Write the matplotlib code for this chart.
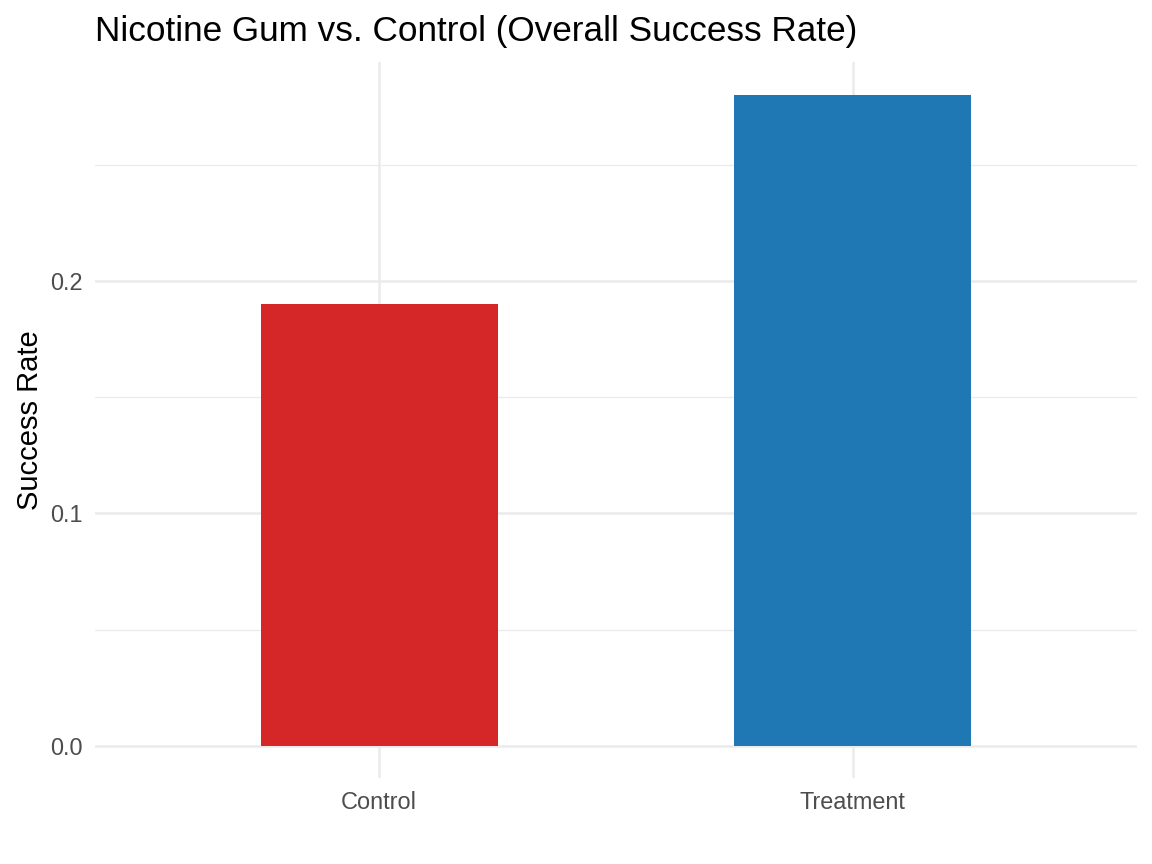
import matplotlib.pyplot as plt
import numpy as np

# Données
groupes = ["Control", "Treatment"]
taux_succes = [0.190, 0.280]
couleurs = ["#D62728", "#1F77B4"]

plt.rcParams['font.family'] = ['Liberation Sans', 'DejaVu Sans']

fig = plt.figure(figsize=(11.52, 8.64), dpi=100)
ax = fig.add_axes([0.0825, 0.099, 0.9045, 0.8287])

x = np.arange(1, len(groupes) + 1)

# grille (style theme_minimal)
for yv in [0.05, 0.15, 0.25]:
    ax.axhline(yv, color="#EBEBEB", linewidth=0.9, zorder=0)
for yv in [0.0, 0.1, 0.2]:
    ax.axhline(yv, color="#EBEBEB", linewidth=1.8, zorder=0)
for xv in x:
    ax.axvline(xv, color="#EBEBEB", linewidth=1.8, zorder=0)

ax.bar(x, taux_succes, width=0.5, color=couleurs, zorder=2)

ymax = max(taux_succes)
ax.set_xlim(0.4, 2.6)
ax.set_ylim(-0.05 * ymax, 1.05 * ymax)
ax.set_xticks(x)
ax.set_xticklabels(groupes)
ax.set_yticks([0.0, 0.1, 0.2])
ax.set_yticklabels(["0.0", "0.1", "0.2"])
ax.tick_params(length=0, labelsize=16.9, labelcolor="#4D4D4D")
ax.tick_params(axis="y", pad=9)
ax.tick_params(axis="x", pad=9)
for s in ax.spines.values():
    s.set_visible(False)

ax.set_ylabel("Success Rate", fontsize=21, labelpad=4)
fig.text(0.0825, 0.963, "Nicotine Gum vs. Control (Overall Success Rate)",
         fontsize=25.3, ha="left", va="center")

plt.savefig("out.png", dpi=100)
